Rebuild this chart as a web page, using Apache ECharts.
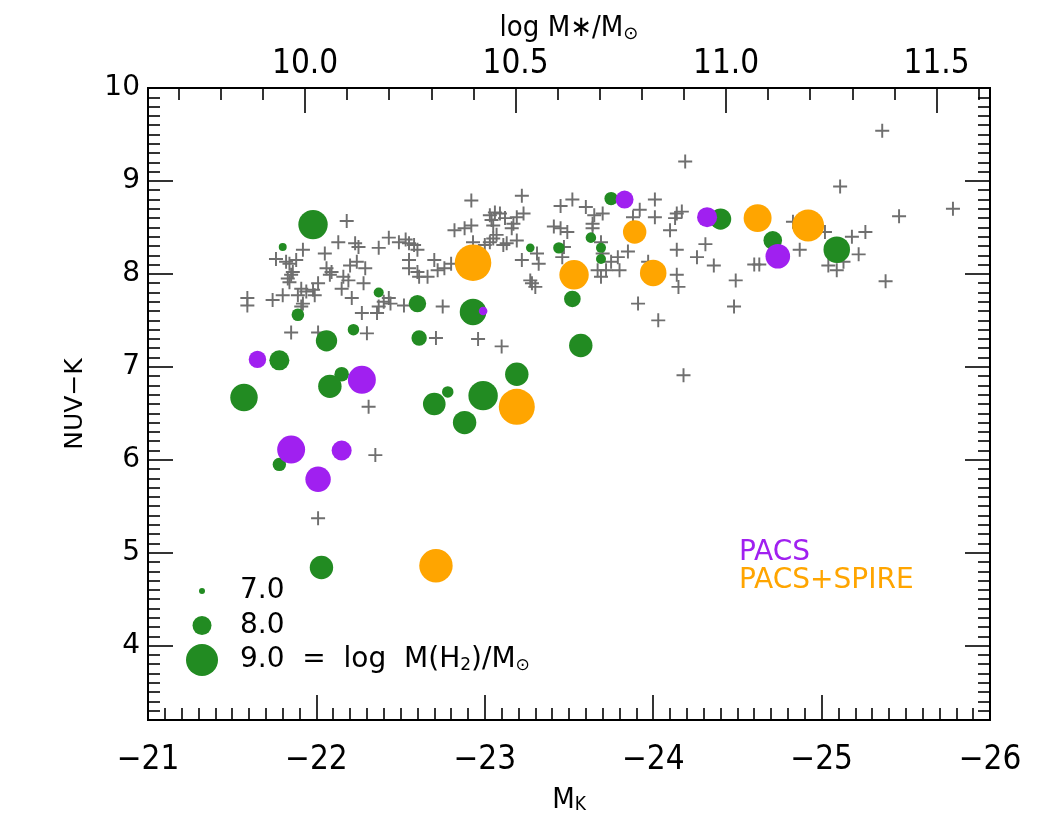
<!DOCTYPE html>
<html>
<head>
<meta charset="utf-8">
<script src="https://cdn.jsdelivr.net/npm/echarts@6/dist/echarts.min.js"></script>
<style>
    html, body {margin: 0; background: #fff;}
    #chart {width: 1050px; height: 825px;}
</style>
</head>
<body>
<div id="chart"></div>
<script>
// galaxies without Herschel detection (grey crosses)
var crossMK = [
    -22.18, -22.13, -22.23, -22.25, -22.37, -22.43, -22.49, -22.53, -22.55, -22.58,
    -22.60, -21.92, -21.76, -21.82, -21.84, -21.88, -22.05, -22.06, -22.09, -22.08,
    -22.20, -22.24, -22.29, -22.28, -22.16, -22.19, -22.15, -21.86, -21.85, -21.83,
    -21.84, -21.91, -21.89, -21.94, -21.98, -22.01, -21.99, -21.59, -21.59, -21.74,
    -21.80, -21.91, -21.92, -22.21, -22.27, -22.36, -22.37, -22.40, -22.43, -22.44,
    -22.52, -22.55, -22.55, -22.60, -22.61, -22.66, -22.70, -22.72, -22.76, -22.80,
    -22.75, -21.85, -22.01, -22.30, -22.71, -22.31, -22.35, -22.01, -24.19, -22.92,
    -23.22, -23.52, -23.45, -23.60, -23.65, -23.70, -24.01, -23.92, -23.88, -24.01,
    -24.14, -24.17, -24.13, -24.10, -23.03, -23.06, -23.09, -23.04, -23.12, -23.19,
    -23.23, -23.17, -23.16, -22.92, -22.88, -22.82, -23.05, -23.41, -23.45, -23.49,
    -23.64, -23.64, -23.07, -23.05, -23.03, -23.00, -22.93, -23.19, -23.11, -23.13,
    -23.47, -23.31, -23.32, -23.22, -23.46, -23.69, -23.70, -23.79, -23.85, -23.75,
    -23.80, -23.72, -23.67, -23.69, -23.27, -23.30, -23.28, -24.14, -24.15, -23.91,
    -24.03, -24.14, -24.31, -24.26, -24.36, -24.49, -24.48, -22.96, -23.10, -23.97,
    -25.36, -25.11, -25.78, -25.46, -25.26, -25.18, -25.02, -24.83, -24.87, -25.22,
    -25.04, -25.09, -25.13, -24.60, -24.63, -25.38, -24.18
];
var crossColor = [
    8.57, 8.34, 8.33, 8.29, 8.28, 8.39, 8.34, 8.37, 8.33, 8.31,
    8.26, 8.26, 8.16, 8.13, 8.11, 8.15, 8.22, 8.06, 8.02, 7.99,
    8.09, 8.13, 8.06, 7.90, 7.97, 7.93, 7.84, 8.02, 7.99, 7.95,
    7.91, 7.84, 7.77, 7.81, 7.83, 7.90, 7.77, 7.74, 7.66, 7.72,
    7.77, 7.65, 7.68, 7.74, 7.58, 7.58, 7.65, 7.70, 7.74, 7.68,
    7.66, 8.15, 8.06, 8.02, 7.97, 7.97, 8.15, 8.04, 8.06, 8.11,
    7.65, 7.37, 7.37, 7.36, 7.31, 6.57, 6.05, 5.37, 9.21, 8.79,
    8.84, 8.80, 8.73, 8.72, 8.63, 8.65, 8.80, 8.69, 8.61, 8.61,
    8.65, 8.67, 8.60, 8.47, 8.63, 8.66, 8.65, 8.58, 8.60, 8.61,
    8.65, 8.54, 8.49, 8.52, 8.49, 8.47, 8.52, 8.51, 8.49, 8.45,
    8.54, 8.49, 8.42, 8.38, 8.34, 8.31, 8.34, 8.36, 8.31, 8.33,
    8.29, 8.22, 8.11, 8.15, 8.18, 8.34, 8.22, 8.18, 8.24, 8.13,
    8.04, 8.04, 8.04, 7.97, 7.93, 7.86, 7.90, 7.99, 7.86, 7.68,
    7.50, 8.26, 8.32, 8.18, 8.09, 7.93, 7.65, 7.30, 7.22, 8.13,
    9.54, 8.94, 8.70, 8.62, 8.45, 8.40, 8.45, 8.56, 8.26, 8.21,
    8.09, 8.04, 8.13, 8.10, 8.10, 7.92, 6.91
];

// CO detections, no Herschel (green)
var greenMK = [
    -21.98, -21.80, -22.37, -22.60, -21.89, -22.22, -22.06, -22.61, -21.78, -22.15,
    -22.08, -21.57, -22.70, -22.78, -21.78, -23.75, -24.40, -23.63, -23.27, -23.44,
    -23.69, -23.69, -23.52, -22.93, -23.57, -24.71, -25.09, -23.19, -22.99, -22.88,
    -22.03
];
var greenColor = [
    8.53, 8.29, 7.80, 7.68, 7.56, 7.40, 7.28, 7.31, 7.07, 6.92,
    6.79, 6.67, 6.60, 6.73, 5.95, 8.81, 8.59, 8.39, 8.28, 8.28,
    8.28, 8.16, 7.73, 7.59, 7.23, 8.36, 8.26, 6.92, 6.69, 6.40,
    4.84
];
var greenH2 = [
    8.80, 7.15, 7.31, 7.88, 7.51, 7.42, 8.18, 7.72, 8.08, 7.66,
    8.34, 8.65, 8.28, 7.42, 7.57, 7.57, 8.18, 7.35, 7.20, 7.42,
    7.31, 7.31, 7.82, 8.58, 8.34, 7.97, 8.58, 8.34, 8.80, 8.34,
    8.34
];

// PACS+SPIRE (orange)
var spireMK = [-22.93, -23.53, -23.89, -24.00, -24.62, -24.92, -23.19, -22.71];
var spireColor = [8.12, 7.99, 8.45, 8.01, 8.60, 8.52, 6.57, 4.86];
var spireH2 = [9.35, 8.80, 8.34, 8.58, 8.69, 9.00, 9.31, 9.11];

// PACS only (purple)
var pacsMK = [-21.65, -22.27, -21.85, -22.15, -22.01, -23.83, -24.32, -22.99, -24.74];
var pacsColor = [7.08, 6.86, 6.11, 6.10, 5.79, 8.80, 8.61, 7.60, 8.19];
var pacsH2 = [7.88, 8.69, 8.69, 8.08, 8.49, 7.92, 8.08, 7.20, 8.43];

// axis ticks
var mkTicks = [-21, -22, -23, -24, -25, -26];
var colorTicks = [4, 5, 6, 7, 8, 9, 10];
var massTicks = [10.0, 10.5, 11.0, 11.5];
var sizeKey = [7.0, 8.0, 9.0];

var GREEN = '#228b22', ORANGE = '#ffa500', PURPLE = '#a020f0', GREY = '#6f6f6f';
var NARROW = "'Liberation Sans Narrow', 'DejaVu Sans Condensed', 'Liberation Sans', sans-serif";
var ROUND = "'DejaVu Sans', sans-serif";
var PLUS = 'path://M5.6,0H7.4V5.6H13V7.4H7.4V13H5.6V7.4H0V5.6H5.6Z';

// marker diameter from log M(H2)
function h2Size(m) {
    return 6 + 13 * (m - 7);
}

function pairs(xs, ys, ms) {
    return xs.map(function (x, i) {
        return ms ? [x, ys[i], ms[i]] : [x, ys[i]];
    });
}

// 0.1 steps between from and to, skipping the major positions
function minorTicks(from, to, every) {
    var out = [];
    for (var i = Math.round(from * 10); i <= Math.round(to * 10); i++) {
        if (i % every !== 0) out.push(i / 10);
    }
    return out;
}

function minus(v) {
    return String(v).replace('-', '\u2212');
}

var tickLine = {color: '#000', width: 1.6};

function majorAxis(extra) {
    return Object.assign({
        type: 'value',
        axisLine: {show: false, onZero: false},
        splitLine: {show: false}
    }, extra);
}

function minorAxis(extra, values) {
    return Object.assign({
        type: 'value',
        axisLine: {show: false, onZero: false},
        splitLine: {show: false},
        axisLabel: {show: false},
        axisTick: {inside: true, length: 12, customValues: values, lineStyle: tickLine}
    }, extra);
}

var chart = echarts.init(document.getElementById('chart'));

chart.setOption({
    animation: false,
    backgroundColor: '#fff',
    grid: {left: 148, right: 60, top: 88, bottom: 105, show: true, borderColor: '#000', borderWidth: 2},
    xAxis: [
        majorAxis({
            position: 'bottom', min: -26, max: -21, inverse: true,
            axisTick: {inside: true, length: 25, customValues: mkTicks, lineStyle: tickLine},
            axisLabel: {customValues: mkTicks, formatter: minus, margin: 24,
                fontFamily: NARROW, fontSize: 33, color: '#000'},
            name: 'M{sub|K}', nameLocation: 'middle', nameGap: 66,
            nameTextStyle: {fontFamily: NARROW, fontSize: 29, color: '#000',
                rich: {sub: {fontFamily: NARROW, fontSize: 19, lineHeight: 6, verticalAlign: 'bottom', color: '#000'}}}
        }),
        minorAxis({position: 'bottom', min: -26, max: -21, inverse: true}, minorTicks(-26, -21, 10)),
        majorAxis({
            position: 'top', min: 9.627, max: 11.627,
            axisTick: {inside: true, length: 25, customValues: massTicks, lineStyle: tickLine},
            axisLabel: {customValues: massTicks, margin: 7,
                formatter: function (v) { return v.toFixed(1); },
                fontFamily: NARROW, fontSize: 33, color: '#000'},
            name: 'log M\u2217/M{sub|\u2299}', nameLocation: 'middle', nameGap: 42,
            nameTextStyle: {fontFamily: NARROW, fontSize: 29, color: '#000',
                rich: {sub: {fontFamily: ROUND, fontSize: 18, lineHeight: 8, verticalAlign: 'bottom', color: '#000'}}}
        }),
        minorAxis({position: 'top', min: 9.627, max: 11.627}, minorTicks(9.7, 11.6, 5))
    ],
    yAxis: [
        majorAxis({
            position: 'left', min: 3.2, max: 10,
            axisTick: {inside: true, length: 25, customValues: colorTicks, lineStyle: tickLine},
            axisLabel: {customValues: colorTicks, margin: 8,
                fontFamily: ROUND, fontSize: 28, color: '#000'},
            name: 'NUV\u2212K', nameLocation: 'middle', nameGap: 60, nameRotate: 90,
            nameTextStyle: {fontFamily: ROUND, fontSize: 25, color: '#000'}
        }),
        minorAxis({position: 'left', min: 3.2, max: 10}, minorTicks(3.3, 9.9, 10)),
        majorAxis({
            position: 'right', min: 3.2, max: 10,
            axisTick: {inside: true, length: 25, customValues: colorTicks, lineStyle: tickLine},
            axisLabel: {show: false}
        }),
        minorAxis({position: 'right', min: 3.2, max: 10}, minorTicks(3.3, 9.9, 10))
    ],
    series: [
        {
            type: 'scatter', name: 'no CO',
            data: pairs(crossMK, crossColor),
            symbol: PLUS, symbolSize: 14,
            itemStyle: {color: GREY, opacity: 1}
        },
        {
            type: 'scatter', name: 'CO',
            data: pairs(greenMK, greenColor, greenH2),
            symbol: 'circle',
            symbolSize: function (d) { return h2Size(d[2]); },
            itemStyle: {color: GREEN, opacity: 1}
        },
        {
            type: 'scatter', name: 'PACS+SPIRE',
            data: pairs(spireMK, spireColor, spireH2),
            symbol: 'circle',
            symbolSize: function (d) { return h2Size(d[2]); },
            itemStyle: {color: ORANGE, opacity: 1}
        },
        {
            type: 'scatter', name: 'PACS',
            data: pairs(pacsMK, pacsColor, pacsH2),
            symbol: 'circle',
            symbolSize: function (d) { return h2Size(d[2]); },
            itemStyle: {color: PURPLE, opacity: 1}
        }
    ],
    graphic: sizeKey.map(function (m, i) {
        return {
            type: 'circle', silent: true,
            shape: {cx: 202, cy: 591 + i * 34.5, r: h2Size(m) / 2},
            style: {fill: GREEN}
        };
    }).concat(sizeKey.map(function (m, i) {
        return {
            type: 'text', silent: true, x: 240, y: 591 + i * 34.5,
            style: {
                text: m.toFixed(1) + (i === 2 ? '  =  log  M(H{sub|2})/M{sub|\u2299}' : ''),
                font: '28px ' + ROUND, fill: '#000',
                verticalAlign: 'middle', textVerticalAlign: 'middle',
                rich: {sub: {fontFamily: ROUND, fontSize: 17, lineHeight: 8, verticalAlign: 'bottom', fill: '#000'}}
            }
        };
    })).concat([
        {
            type: 'text', silent: true, x: 739, y: 553,
            style: {text: 'PACS', font: '28px ' + ROUND, fill: PURPLE,
                verticalAlign: 'middle', textVerticalAlign: 'middle'}
        },
        {
            type: 'text', silent: true, x: 739, y: 581,
            style: {text: 'PACS+SPIRE', font: '28px ' + ROUND, fill: ORANGE,
                verticalAlign: 'middle', textVerticalAlign: 'middle'}
        }
    ])
});
</script>
</body>
</html>
